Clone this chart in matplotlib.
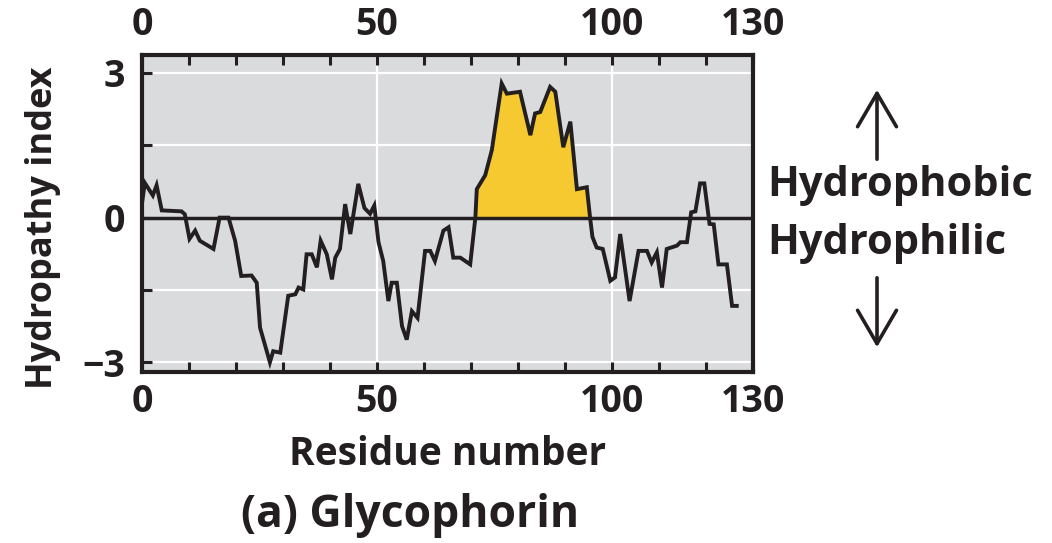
import numpy as np
import matplotlib.pyplot as plt

# Hydropathy plot of glycophorin
residue = [0, 0.6, 2.3, 3.1, 4.2, 8.4, 9.1, 10.1, 11.3, 12.3, 15.2, 16.5, 18.4, 19.8,
           21.1, 23.3, 24.4, 25.1, 27.2, 27.9, 29.4, 31.1, 32.6, 33.3, 34.3, 35.0,
           36.1, 37.2, 38.0, 39.3, 40.4, 41.1, 42.1, 43.2, 44.3, 46.0, 47.3, 48.5,
           49.4, 50.3, 51.3, 52.4, 53.1, 54.2, 55.3, 56.3, 57.4, 58.6, 60.2, 61.3,
           62.3, 64.1, 65.2, 66.2, 67.7, 69.8, 70.9, 71.2, 73.0, 74.4, 76.5, 77.6,
           80.4, 82.6, 83.6, 84.7, 86.8, 87.9, 89.6, 91.1, 92.5, 94.6, 95.3, 95.8,
           96.7, 98.0, 99.6, 100.6, 101.7, 103.7, 105.6, 107.4, 108.4, 109.5, 110.6,
           111.6, 113.8, 114.5, 115.9, 116.8, 117.7, 118.7, 119.6, 120.7, 121.6,
           122.6, 124.4, 125.5, 126.5]
hydropathy = [0.3, 0.72, 0.46, 0.67, 0.15, 0.13, 0.07, -0.44, -0.27, -0.48, -0.65, 0.0,
              0.0, -0.48, -1.21, -1.2, -1.35, -2.28, -3.0, -2.77, -2.8, -1.62, -1.59,
              -1.45, -1.49, -0.76, -0.76, -1.03, -0.48, -0.76, -1.28, -0.83, -0.65,
              0.28, -0.34, 0.70, 0.2, 0.08, 0.25, -0.51, -0.9, -1.73, -1.35, -1.35,
              -2.25, -2.53, -1.94, -2.08, -0.69, -0.69, -0.9, -0.27, -0.2, -0.83,
              -0.83, -0.97, 0.0, 0.59, 0.88, 1.4, 2.78, 2.57, 2.61, 1.71, 2.16, 2.19,
              2.71, 2.61, 1.46, 1.99, 0.59, 0.63, 0.0, -0.4, -0.62, -0.65, -1.31,
              -1.24, -0.34, -1.73, -0.69, -0.69, -0.93, -0.72, -1.45, -0.65, -0.58,
              -0.51, -0.51, 0.11, 0.13, 0.71, 0.71, -0.13, -0.14, -0.97, -0.97,
              -1.83, -1.83]
# hydrophobic (membrane-spanning) stretch that gets shaded
tm_start, tm_end = 70.9, 95.3

x_ticks = list(range(0, 131, 10))
x_labels = ['0', '', '', '', '', '50', '', '', '', '', '100', '', '', '130']
y_ticks = [-3, -1.5, 0, 1.5, 3]
y_labels = ['\u22123', '', '0', '', '3']

ink = '#231f20'
plt.rcParams['font.family'] = ['Open Sans', 'DejaVu Sans']
plt.rcParams['font.weight'] = 'bold'
plt.rcParams['axes.labelweight'] = 'bold'

fig = plt.figure(figsize=(10.52, 5.43), dpi=100)
ax = fig.add_axes([0.135, 0.315, 0.581, 0.584])
ax.set_facecolor('#dadbdd')

x = np.array(residue)
y = np.array(hydropathy)

for gx in [50, 100]:
    ax.axvline(gx, color='white', lw=1.6, zorder=1)
for gy in [-3, -1.5, 1.5, 3]:
    ax.axhline(gy, color='white', lw=1.6, zorder=1)

ax.fill_between(x, y, 0, where=(x >= tm_start) & (x <= tm_end),
                color='#f6c930', zorder=2, lw=0)
ax.axhline(0, color=ink, lw=2.5, zorder=3)
ax.plot(x, y, color=ink, lw=2.8, zorder=4, solid_joinstyle='miter')

ax.set_xlim(0, 130)
ax.set_ylim(-3.2, 3.375)

ax.set_xticks(x_ticks)
ax.set_xticklabels(x_labels)
ax.set_yticks(y_ticks)
ax.set_yticklabels(y_labels)
ax.tick_params(axis='x', direction='in', length=7, width=2.2, color=ink,
               top=True, labeltop=True, labelsize=27, labelcolor=ink, pad=8)
ax.tick_params(axis='y', direction='in', length=7, width=2.2, color=ink,
               labelsize=27, labelcolor=ink, pad=12)
for sp in ax.spines.values():
    sp.set_linewidth(3)
    sp.set_color(ink)

ax.set_xlabel('Residue number', fontsize=28, color=ink, labelpad=10)
ax.set_ylabel('Hydropathy index', fontsize=26, color=ink)
ax.yaxis.set_label_coords(-0.132, 0.455)

fig.text(0.390, 1 - 515 / 543, '(a) Glycophorin', fontsize=32, color=ink,
         ha='center', va='center')

fig.text(0.729, 1 - 185 / 543, 'Hydrophobic', fontsize=30, color=ink,
         ha='left', va='center')
fig.text(0.729, 1 - 244 / 543, 'Hydrophilic', fontsize=30, color=ink,
         ha='left', va='center')

# up / down arrows in figure coordinates
ax_x = 877 / 1052
arrow = dict(arrowstyle='->, head_length=0.6, head_width=0.35', color=ink,
             lw=2.6, mutation_scale=40)
ax.annotate('', xy=(ax_x, 1 - 87 / 543), xytext=(ax_x, 1 - 162 / 543),
            xycoords='figure fraction', textcoords='figure fraction',
            arrowprops=arrow)
ax.annotate('', xy=(ax_x, 1 - 350 / 543), xytext=(ax_x, 1 - 275 / 543),
            xycoords='figure fraction', textcoords='figure fraction',
            arrowprops=arrow)

fig.savefig('out.png', dpi=100)
